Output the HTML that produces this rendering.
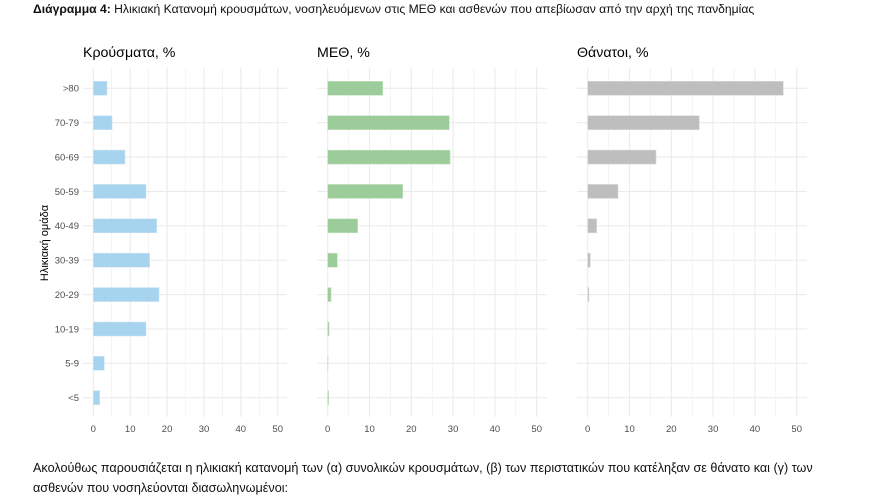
<!DOCTYPE html>
<html><head><meta charset="utf-8"><style>
html,body{margin:0;padding:0;background:#fff;width:874px;height:498px;overflow:hidden}
svg{display:block}
</style></head><body>
<svg width="874" height="498" viewBox="0 0 874 498" xmlns="http://www.w3.org/2000/svg" font-family="Liberation Sans, DejaVu Sans, sans-serif">
<text x="33" y="13" font-size="12.15" fill="#111"><tspan font-weight="bold">Διάγραμμα 4:</tspan> Ηλικιακή Κατανομή κρουσμάτων, νοσηλευόμενων στις ΜΕΘ και ασθενών που απεβίωσαν από την αρχή της πανδημίας</text>

<g id="grid" stroke="#ebebeb" fill="none">
<g stroke-width="1.1">
<line x1="83" x2="287" y1="88.3" y2="88.3"/><line x1="83" x2="287" y1="122.7" y2="122.7"/><line x1="83" x2="287" y1="157.1" y2="157.1"/><line x1="83" x2="287" y1="191.4" y2="191.4"/><line x1="83" x2="287" y1="225.8" y2="225.8"/><line x1="83" x2="287" y1="260.2" y2="260.2"/><line x1="83" x2="287" y1="294.6" y2="294.6"/><line x1="83" x2="287" y1="329" y2="329"/><line x1="83" x2="287" y1="363.3" y2="363.3"/><line x1="83" x2="287" y1="397.7" y2="397.7"/>
<line x1="317" x2="547" y1="88.3" y2="88.3"/><line x1="317" x2="547" y1="122.7" y2="122.7"/><line x1="317" x2="547" y1="157.1" y2="157.1"/><line x1="317" x2="547" y1="191.4" y2="191.4"/><line x1="317" x2="547" y1="225.8" y2="225.8"/><line x1="317" x2="547" y1="260.2" y2="260.2"/><line x1="317" x2="547" y1="294.6" y2="294.6"/><line x1="317" x2="547" y1="329" y2="329"/><line x1="317" x2="547" y1="363.3" y2="363.3"/><line x1="317" x2="547" y1="397.7" y2="397.7"/>
<line x1="577" x2="807" y1="88.3" y2="88.3"/><line x1="577" x2="807" y1="122.7" y2="122.7"/><line x1="577" x2="807" y1="157.1" y2="157.1"/><line x1="577" x2="807" y1="191.4" y2="191.4"/><line x1="577" x2="807" y1="225.8" y2="225.8"/><line x1="577" x2="807" y1="260.2" y2="260.2"/><line x1="577" x2="807" y1="294.6" y2="294.6"/><line x1="577" x2="807" y1="329" y2="329"/><line x1="577" x2="807" y1="363.3" y2="363.3"/><line x1="577" x2="807" y1="397.7" y2="397.7"/>
</g>
<g stroke-width="1.1">
<line x1="93.3" x2="93.3" y1="68" y2="417"/><line x1="130.2" x2="130.2" y1="68" y2="417"/><line x1="167.1" x2="167.1" y1="68" y2="417"/><line x1="204" x2="204" y1="68" y2="417"/><line x1="240.8" x2="240.8" y1="68" y2="417"/><line x1="277.7" x2="277.7" y1="68" y2="417"/>
<line x1="327.7" x2="327.7" y1="68" y2="417"/><line x1="369.5" x2="369.5" y1="68" y2="417"/><line x1="411.3" x2="411.3" y1="68" y2="417"/><line x1="453.1" x2="453.1" y1="68" y2="417"/><line x1="494.9" x2="494.9" y1="68" y2="417"/><line x1="536.7" x2="536.7" y1="68" y2="417"/>
<line x1="587.7" x2="587.7" y1="68" y2="417"/><line x1="629.5" x2="629.5" y1="68" y2="417"/><line x1="671.3" x2="671.3" y1="68" y2="417"/><line x1="713.1" x2="713.1" y1="68" y2="417"/><line x1="754.9" x2="754.9" y1="68" y2="417"/><line x1="796.7" x2="796.7" y1="68" y2="417"/>
</g>
<g stroke-width="0.6" stroke="#eeeeee">
<line x1="111.7" x2="111.7" y1="68" y2="417"/><line x1="148.6" x2="148.6" y1="68" y2="417"/><line x1="185.5" x2="185.5" y1="68" y2="417"/><line x1="222.4" x2="222.4" y1="68" y2="417"/><line x1="259.3" x2="259.3" y1="68" y2="417"/>
<line x1="348.6" x2="348.6" y1="68" y2="417"/><line x1="390.4" x2="390.4" y1="68" y2="417"/><line x1="432.2" x2="432.2" y1="68" y2="417"/><line x1="474" x2="474" y1="68" y2="417"/><line x1="515.8" x2="515.8" y1="68" y2="417"/>
<line x1="608.6" x2="608.6" y1="68" y2="417"/><line x1="650.4" x2="650.4" y1="68" y2="417"/><line x1="692.2" x2="692.2" y1="68" y2="417"/><line x1="734" x2="734" y1="68" y2="417"/><line x1="775.8" x2="775.8" y1="68" y2="417"/>
</g>
</g>

<g fill="#a6d3ee" stroke="#cfe6f5" stroke-width="0.6">
<rect x="93.3" y="81.3" width="13.7" height="14"/>
<rect x="93.3" y="115.7" width="18.8" height="14"/>
<rect x="93.3" y="150.1" width="31.7" height="14"/>
<rect x="93.3" y="184.4" width="52.7" height="14"/>
<rect x="93.3" y="218.8" width="63.4" height="14"/>
<rect x="93.3" y="253.2" width="56.4" height="14"/>
<rect x="93.3" y="287.6" width="65.7" height="14"/>
<rect x="93.3" y="322" width="52.7" height="14"/>
<rect x="93.3" y="356.3" width="11" height="14"/>
<rect x="93.3" y="390.7" width="6.4" height="14"/>
</g>
<g fill="#9ccc99" stroke="#c8e3c6" stroke-width="0.6">
<rect x="327.7" y="81.3" width="55" height="14"/>
<rect x="327.7" y="115.7" width="121.6" height="14"/>
<rect x="327.7" y="150.1" width="122.4" height="14"/>
<rect x="327.7" y="184.4" width="75" height="14"/>
<rect x="327.7" y="218.8" width="30" height="14"/>
<rect x="327.7" y="253.2" width="9.6" height="14"/>
<rect x="327.7" y="287.6" width="3.3" height="14"/>
<rect x="327.7" y="322" width="1.3" height="14"/>
<rect x="327.7" y="356.3" width="0.3" height="14"/>
<rect x="327.7" y="390.7" width="0.9" height="14"/>
</g>
<g fill="#bebebe" stroke="#dadada" stroke-width="0.6">
<rect x="587.7" y="81.3" width="195.6" height="14"/>
<rect x="587.7" y="115.7" width="111.6" height="14"/>
<rect x="587.7" y="150.1" width="68.3" height="14"/>
<rect x="587.7" y="184.4" width="30.3" height="14"/>
<rect x="587.7" y="218.8" width="9" height="14"/>
<rect x="587.7" y="253.2" width="2.6" height="14"/>
<rect x="587.7" y="287.6" width="1.2" height="14"/>
</g>

<g font-size="14.2" fill="#000">
<text x="83" y="57">Κρούσματα, %</text>
<text x="317" y="57">ΜΕΘ, %</text>
<text x="577" y="57">Θάνατοι, %</text>
</g>

<g font-size="9.5" fill="#4d4d4d" text-anchor="end">
<text x="79" y="91.7">&gt;80</text>
<text x="79" y="126.1">70-79</text>
<text x="79" y="160.5">60-69</text>
<text x="79" y="194.8">50-59</text>
<text x="79" y="229.2">40-49</text>
<text x="79" y="263.6">30-39</text>
<text x="79" y="298">20-29</text>
<text x="79" y="332.4">10-19</text>
<text x="79" y="366.7">5-9</text>
<text x="79" y="401.1">&lt;5</text>
</g>

<g font-size="9.5" fill="#4d4d4d" text-anchor="middle">
<text x="93.3" y="432">0</text><text x="130.2" y="432">10</text><text x="167.1" y="432">20</text><text x="204" y="432">30</text><text x="240.8" y="432">40</text><text x="277.7" y="432">50</text>
<text x="327.7" y="432">0</text><text x="369.5" y="432">10</text><text x="411.3" y="432">20</text><text x="453.1" y="432">30</text><text x="494.9" y="432">40</text><text x="536.7" y="432">50</text>
<text x="587.7" y="432">0</text><text x="629.5" y="432">10</text><text x="671.3" y="432">20</text><text x="713.1" y="432">30</text><text x="754.9" y="432">40</text><text x="796.7" y="432">50</text>
</g>

<text transform="translate(48,243) rotate(-90)" font-size="11" fill="#000" text-anchor="middle">Ηλικιακή ομάδα</text>

<g font-size="12.63" fill="#111">
<text x="33" y="472">Ακολούθως παρουσιάζεται η ηλικιακή κατανομή των (α) συνολικών κρουσμάτων, (β) των περιστατικών που κατέληξαν σε θάνατο και (γ) των</text>
<text x="33" y="492">ασθενών που νοσηλεύονται διασωληνωμένοι:</text>
</g>
</svg>
</body></html>
